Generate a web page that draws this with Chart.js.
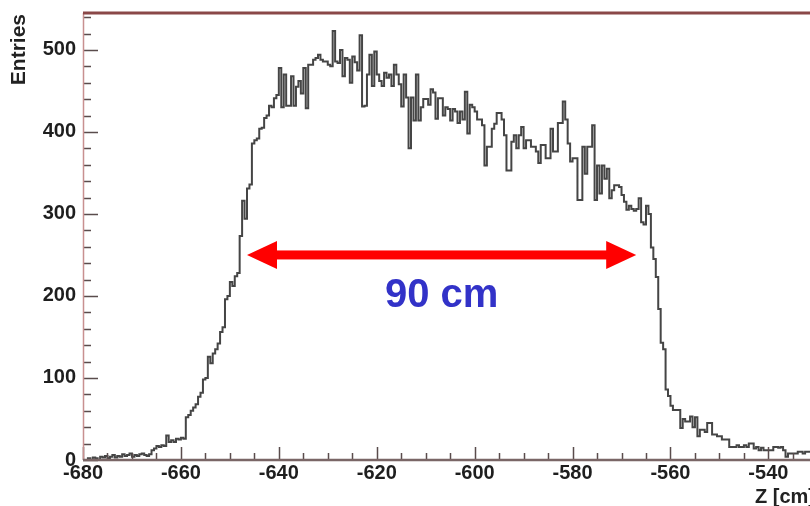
<!DOCTYPE html>
<html>
<head>
<meta charset="utf-8">
<script src="https://cdn.jsdelivr.net/npm/chart.js@4.4.0/dist/chart.umd.min.js"></script>
<style>
  html, body { margin: 0; padding: 0; background: #ffffff; }
  canvas { display: block; }
</style>
</head>
<body>
<canvas id="histo" width="810" height="506"></canvas>
<script>
/* Z distribution histogram - 0.5 cm bins starting at -680 cm */

const binStart = -680;
const binWidth = 0.5;

// entries per bin, split by region of the distribution
const leftTail = [0, 0, 2, 0, 3, 2, 0, 4, 3, 5, 2, 4, 6, 3, 5, 4, 7, 5, 6, 8, 4, 6, 5, 7, 8, 6, 5, 7,
    12, 14, 17, 16, 18, 17, 30, 22, 24, 22, 26, 25, 27, 26];
const risingEdge = [52, 55, 60, 64, 68, 77, 82, 98, 100, 126, 118, 130, 135, 142, 156, 162, 196, 200, 217, 212,
    224, 228, 273, 316, 294, 331, 336, 386, 390, 392, 404, 405, 417, 420, 432, 430, 441, 445];
const plateau = [478, 430, 470, 432, 432, 468, 432, 455, 462, 447,
    478, 429, 482, 482, 488, 490, 494, 488, 486, 486,
    482, 480, 523, 486, 484, 500, 468, 490, 488, 460,
    492, 485, 475, 518, 431, 432, 470, 494, 456, 498,
    470, 462, 456, 472, 466, 470, 456, 482, 470, 458,
    431, 470, 442, 380, 442, 414, 470, 414, 430, 440,
    440, 433, 452, 448, 416, 441, 441, 420, 430, 428,
    414, 428, 425, 411, 425, 415, 449, 398, 433, 430];
const shoulder = [425, 415, 415, 408, 359, 382, 382, 404, 410, 423,
    423, 415, 396, 353, 353, 388, 396, 380, 396, 406,
    380, 390, 390, 382, 382, 376, 362, 384, 384, 368,
    368, 404, 376, 376, 411, 411, 437, 415, 386, 364,
    368, 368, 317, 317, 382, 349, 382, 382, 408, 317,
    359, 325, 359, 343, 355, 319, 329, 335, 335, 333,
    323, 315, 305, 310, 306, 304, 306, 319, 290, 287,
    310, 300];
const fallingEdge = [259, 245, 223, 184, 143, 135, 86, 78, 66, 61, 61, 61];
const rightTail = [39, 50, 47, 47, 53, 40, 52, 29, 37, 37, 34, 45, 45, 31, 31, 29, 29, 25, 25, 25,
    16, 16, 16, 18, 16, 16, 18, 16, 20, 20, 14, 16, 12, 15, 12, 12, 12, 12, 16, 16,
    15, 16, 12, 4, 8, 8, 8, 8, 10, 10, 8, 10, 10];

const xTickValues = [-680, -660, -640, -620, -600, -580, -560, -540];
const yTickValues = [0, 100, 200, 300, 400, 500];
const xMinorStep = 5;
const yMinorStep = 20;
const yMax = 545;

const xTitle = 'Z [cm]';
const yTitle = 'Entries';

// red arrow marking the 90 cm length
const arrowFrom = -646.5;
const arrowTo = -567;
const arrowLevel = 250;
const arrowLabel = '90 cm';
const arrowLabelLevel = 200;

const counts = [...leftTail, ...risingEdge, ...plateau, ...shoulder, ...fallingEdge, ...rightTail];
const xMax = binStart + counts.length * binWidth;

// points at bin left edges, plus the closing right edge
const points = counts.map((v, i) => ({ x: binStart + i * binWidth, y: v }));
points.push({ x: xMax, y: counts[counts.length - 1] });

const FONT = '"Liberation Sans", Arial, Helvetica, sans-serif';

const frameAndTicks = {
    id: 'frameAndTicks',
    afterDatasetsDraw(chart) {
        const { ctx, chartArea: a, scales: { x, y } } = chart;
        ctx.save();

        // minor + major ticks, drawn inward like ROOT
        ctx.strokeStyle = '#5a4c4c';
        ctx.lineWidth = 1.5;
        ctx.beginPath();
        for (let v = binStart; v <= xMax + 1e-6; v += xMinorStep) {
            const px = Math.round(x.getPixelForValue(v)) + 0.5;
            const len = xTickValues.includes(v) ? 13 : 7;
            ctx.moveTo(px, a.bottom);
            ctx.lineTo(px, a.bottom - len);
        }
        for (let v = 0; v <= yMax; v += yMinorStep) {
            const py = Math.round(y.getPixelForValue(v)) + 0.5;
            const len = yTickValues.includes(v) ? 15 : 8;
            ctx.moveTo(a.left, py);
            ctx.lineTo(a.left + len, py);
        }
        ctx.stroke();

        // left axis line
        ctx.strokeStyle = '#c89090';
        ctx.lineWidth = 1.5;
        ctx.beginPath();
        ctx.moveTo(a.left + 0.5, a.top);
        ctx.lineTo(a.left + 0.5, a.bottom);
        ctx.stroke();

        // bottom axis line
        ctx.strokeStyle = '#7a6666';
        ctx.lineWidth = 2.5;
        ctx.beginPath();
        ctx.moveTo(a.left, a.bottom);
        ctx.lineTo(a.right, a.bottom);
        ctx.stroke();

        // top frame line
        ctx.strokeStyle = '#8a4848';
        ctx.lineWidth = 3;
        ctx.beginPath();
        ctx.moveTo(a.left, a.top);
        ctx.lineTo(a.right, a.top);
        ctx.stroke();

        // arrow
        const yA = y.getPixelForValue(arrowLevel);
        const x1 = x.getPixelForValue(arrowFrom);
        const x2 = x.getPixelForValue(arrowTo);
        const head = 30, half = 14;
        ctx.fillStyle = '#ff0000';
        ctx.fillRect(x1 + head - 2, yA - 4.5, (x2 - x1) - 2 * head + 4, 9);
        ctx.beginPath();
        ctx.moveTo(x1, yA);
        ctx.lineTo(x1 + head, yA - half);
        ctx.lineTo(x1 + head, yA + half);
        ctx.closePath();
        ctx.fill();
        ctx.beginPath();
        ctx.moveTo(x2, yA);
        ctx.lineTo(x2 - head, yA - half);
        ctx.lineTo(x2 - head, yA + half);
        ctx.closePath();
        ctx.fill();

        ctx.fillStyle = '#3232c8';
        ctx.font = 'bold 40px ' + FONT;
        ctx.textAlign = 'center';
        ctx.textBaseline = 'middle';
        ctx.fillText(arrowLabel, (x1 + x2) / 2, y.getPixelForValue(arrowLabelLevel));

        // axis titles
        ctx.fillStyle = '#222222';
        ctx.font = 'bold 20px ' + FONT;
        ctx.textAlign = 'right';
        ctx.textBaseline = 'alphabetic';
        ctx.fillText(xTitle, 815, 503);

        ctx.font = 'bold 21px ' + FONT;
        ctx.translate(25, 14);
        ctx.rotate(-Math.PI / 2);
        ctx.textAlign = 'right';
        ctx.fillText(yTitle, 0, 0);

        ctx.restore();
    }
};

const chart = new Chart(document.getElementById('histo').getContext('2d'), {
    type: 'line',
    data: {
        datasets: [{
            data: points,
            stepped: 'before',
            borderColor: '#454545',
            borderWidth: 2,
            pointRadius: 0,
            fill: false,
            tension: 0
        }]
    },
    options: {
        responsive: false,
        animation: false,
        devicePixelRatio: 1,
        layout: { padding: { top: 13, right: 0, left: 0, bottom: 0 } },
        plugins: { legend: { display: false }, tooltip: { enabled: false } },
        scales: {
            x: {
                type: 'linear',
                min: binStart,
                max: xMax,
                afterBuildTicks: (scale) => { scale.ticks = xTickValues.map(v => ({ value: v })); },
                afterFit: (scale) => {
                    scale.height = 46;
                    scale.paddingLeft = 0;
                    scale.paddingRight = 0;
                },
                grid: { display: false, drawTicks: false, tickLength: 0 },
                border: { display: false },
                ticks: {
                    autoSkip: false,
                    maxRotation: 0,
                    padding: 1,
                    color: '#1e1e1e',
                    font: { family: FONT, size: 20, weight: 'bold' },
                    callback: (v) => String(v)
                }
            },
            y: {
                min: 0,
                max: yMax,
                afterBuildTicks: (scale) => { scale.ticks = yTickValues.map(v => ({ value: v })); },
                afterFit: (scale) => {
                    scale.width = 83;
                    scale.paddingTop = 0;
                    scale.paddingBottom = 0;
                },
                grid: { display: false, drawTicks: false, tickLength: 0 },
                border: { display: false },
                ticks: {
                    padding: 7,
                    color: '#1e1e1e',
                    font: { family: FONT, size: 20, weight: 'bold' },
                    callback: (v) => String(v)
                }
            }
        }
    },
    plugins: [frameAndTicks]
});
</script>
</body>
</html>
